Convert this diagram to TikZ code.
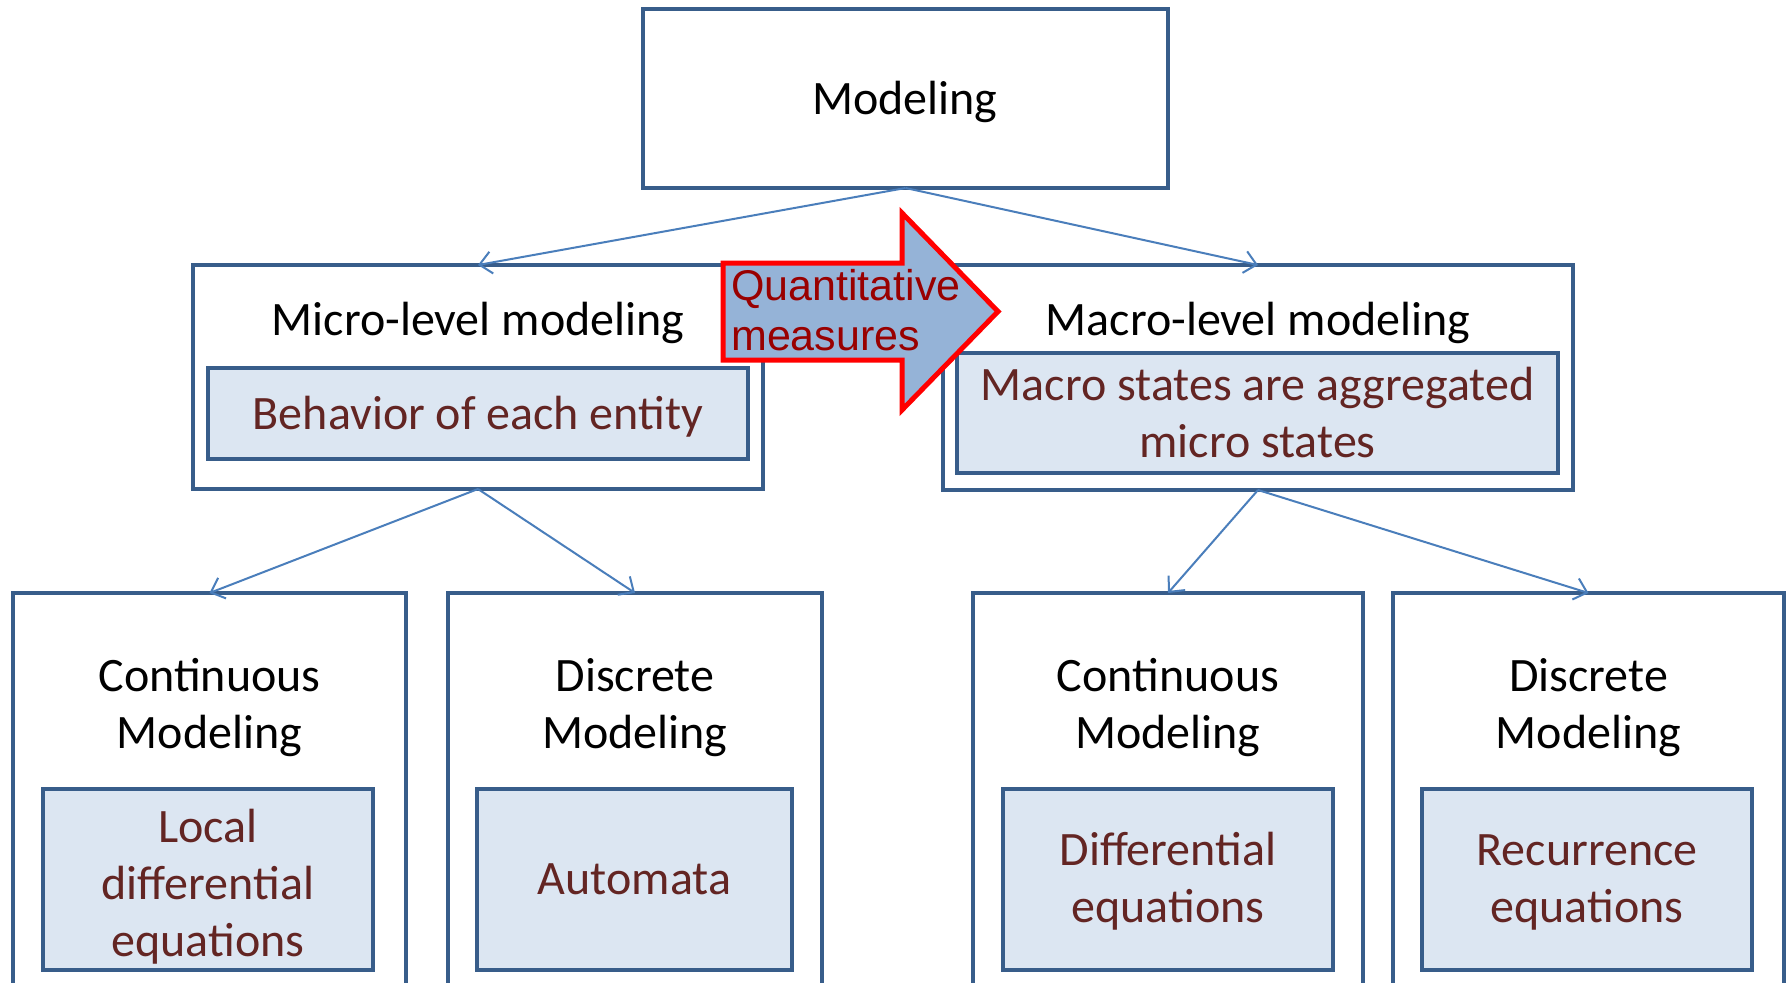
\documentclass[tikz,border=0pt]{standalone}
\usepackage{fontspec}
\setmainfont{Carlito}
\newfontfamily\arialfont{Liberation Sans}
\usetikzlibrary{arrows.meta}
\definecolor{boxblue}{RGB}{56,93,138}
\definecolor{innerfill}{RGB}{220,230,242}
\definecolor{linkblue}{RGB}{74,126,187}
\definecolor{darkredtxt}{RGB}{99,37,35}
\definecolor{arrowfill}{RGB}{149,179,215}
\definecolor{qred}{RGB}{153,0,0}
\begin{document}
\begin{tikzpicture}[x=1pt,y=-1pt,
  outerbox/.style={draw=boxblue, line width=4.5pt, fill=white, rectangle, inner sep=0pt, outer sep=0pt, anchor=north west},
  innerbox/.style={draw=boxblue, line width=4.5pt, fill=innerfill, rectangle, inner sep=0pt, outer sep=0pt, anchor=north west},
  headtxt/.style={inner sep=0pt, anchor=base, align=center, text=black, font=\fontsize{48}{57}\selectfont},
  bodytxt/.style={inner sep=0pt, anchor=base, align=center, text=darkredtxt, font=\fontsize{48}{57}\selectfont},
  link/.style={draw=linkblue, line width=2pt, -{Straight Barb[length=12pt,width=22pt,line width=2pt]}}
]
\clip (0,0) rectangle (1790,982);
\fill[white] (0,0) rectangle (1790,982);

% outer boxes
\node[outerbox, minimum width=525pt, minimum height=179pt] (top) at (643,9) {};
\node[outerbox, minimum width=570pt, minimum height=224pt] (micro) at (193,265) {};
\node[outerbox, minimum width=630pt, minimum height=225pt] (macro) at (943,265) {};
\node[outerbox, minimum width=393pt, minimum height=420pt] (b1) at (13,593) {};
\node[outerbox, minimum width=374pt, minimum height=420pt] (b2) at (448,593) {};
\node[outerbox, minimum width=390pt, minimum height=420pt] (b3) at (973,593) {};
\node[outerbox, minimum width=391pt, minimum height=420pt] (b4) at (1393,593) {};

% inner boxes
\node[innerbox, minimum width=330pt, minimum height=181pt] (b1in) at (43,789) {};
\node[innerbox, minimum width=315pt, minimum height=181pt] (b2in) at (477,789) {};
\node[innerbox, minimum width=330pt, minimum height=181pt] (b3in) at (1003,789) {};
\node[innerbox, minimum width=330pt, minimum height=181pt] (b4in) at (1422,789) {};
\node[innerbox, minimum width=540pt, minimum height=91pt] (microin) at (208,368) {};
\node[innerbox, minimum width=601pt, minimum height=120pt] (macroin) at (957,353) {};

% headings (anchor = baseline of last line)
\node[headtxt] (ttop) at (905,114) {Modeling};
\node[headtxt] (tmicro) at (478,335) {Micro-level modeling};
\node[headtxt] (tmacro) at (1258,335) {Macro-level modeling};
\node[headtxt] (tb1) at (209.5,748) {Continuous\\Modeling};
\node[headtxt] (tb2) at (635,748) {Discrete\\Modeling};
\node[headtxt] (tb3) at (1168,748) {Continuous\\Modeling};
\node[headtxt] (tb4) at (1588.5,748) {Discrete\\Modeling};

% inner texts
\node[bodytxt] (tmicroin) at (478,429) {Behavior of each entity};
\node[bodytxt] (tmacroin) at (1257.5,457) {Macro states are aggregated\\micro states};
\node[bodytxt] (tb1in) at (208,956) {Local\\differential\\equations};
\node[bodytxt] (tb2in) at (634.5,894) {Automata};
\node[bodytxt] (tb3in) at (1168,922) {Differential\\equations};
\node[bodytxt] (tb4in) at (1587,922) {Recurrence\\equations};

% connectors
\draw[link] (top.south) -- (micro.north);
\draw[link] (top.south) -- (macro.north);
\draw[link] (micro.south) -- (b1.north);
\draw[link] (micro.south) -- (b2.north);
\draw[link] (macro.south) -- (b3.north);
\draw[link] (macro.south) -- (b4.north);

% block arrow
\draw[draw=red, line width=5pt, fill=arrowfill, line join=miter]
  (723,263) -- (902,263) -- (902,213) -- (998,311.5) -- (902,410) -- (902,360) -- (723,360) -- cycle;
\node[inner sep=0pt, anchor=base west, align=left, text=qred, font=\arialfont\fontsize{43}{50}\selectfont] (qm) at (731,350) {Quantitative\\measures};
\end{tikzpicture}
\end{document}
